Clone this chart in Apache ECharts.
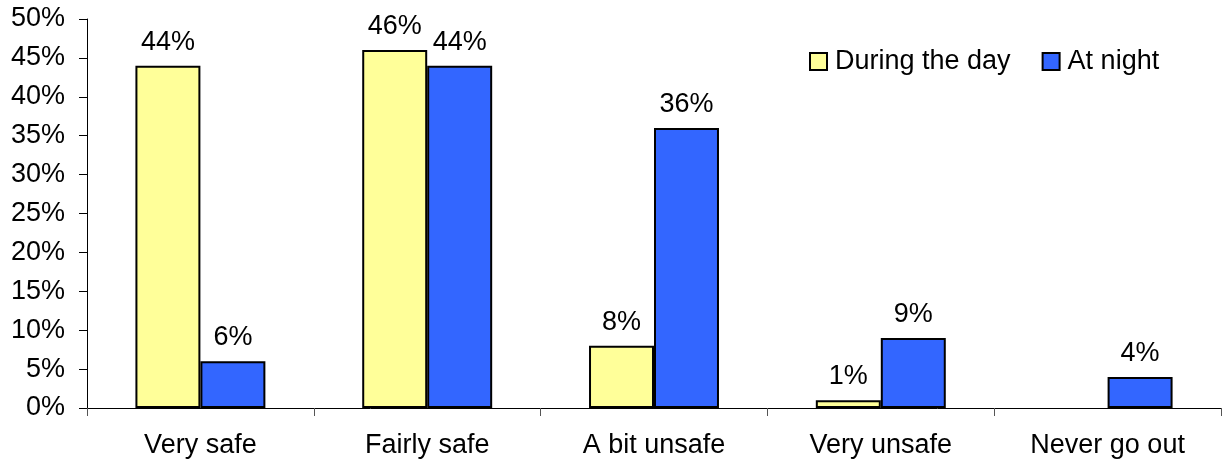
<!DOCTYPE html>
<html>
<head>
<meta charset="utf-8">
<script src="https://cdn.jsdelivr.net/npm/echarts@6/dist/echarts.min.js"></script>
<style>
  html, body { margin: 0; padding: 0; background: #ffffff; }
  #chart { width: 1222px; height: 462px; }
</style>
</head>
<body>
<div id="chart"></div>
<script>
// Feeling of safety when going out, day vs night
const categories = ['Very safe', 'Fairly safe', 'A bit unsafe', 'Very unsafe', 'Never go out'];
const duringTheDay = [44, 46, 8, 1, null];
const atNight = [6, 44, 36, 9, 4];
const seriesNames = ['During the day', 'At night'];

const FONT = 'Liberation Sans, Arial, Helvetica, sans-serif';
const FS = 27;

const chart = echarts.init(document.getElementById('chart'), null, { renderer: 'canvas' });

function barSeries(name, data, color) {
  return {
    name: name,
    type: 'bar',
    data: data,
    barGap: '0%',
    barCategoryGap: '42.7%',
    itemStyle: { color: color, borderColor: '#000000', borderWidth: 2 },
    label: {
      show: true,
      position: 'top',
      distance: 10,
      color: '#000000',
      fontFamily: FONT,
      fontSize: FS,
      formatter: p => (p.value == null ? '' : p.value + '%')
    },
    emphasis: { disabled: true }
  };
}

chart.setOption({
  animation: false,
  backgroundColor: '#ffffff',
  grid: { left: 87, right: 1, top: 19, bottom: 54, containLabel: false },
  legend: {
    data: seriesNames,
    left: 804,
    top: 43,
    itemWidth: 17,
    itemHeight: 17,
    itemGap: 31,
    icon: 'rect',
    itemStyle: { borderColor: '#000000', borderWidth: 2 },
    textStyle: { fontFamily: FONT, fontSize: FS, color: '#000000', padding: [0, 0, 0, 3] }
  },
  xAxis: {
    type: 'category',
    data: categories,
    boundaryGap: true,
    axisLine: { lineStyle: { color: '#000000', width: 1 } },
    axisTick: { show: true, alignWithLabel: false, length: 8, inside: false, lineStyle: { color: '#555555' } },
    axisLabel: { color: '#000000', fontFamily: FONT, fontSize: FS, margin: 24 },
    splitLine: { show: false }
  },
  yAxis: {
    type: 'value',
    min: 0,
    max: 50,
    interval: 5,
    axisLine: { show: true, lineStyle: { color: '#000000', width: 1 } },
    axisTick: { show: true, length: 8, lineStyle: { color: '#000000' } },
    axisLabel: { color: '#000000', fontFamily: FONT, fontSize: FS, margin: 22, formatter: '{value}%' },
    splitLine: { show: false }
  },
  series: [
    barSeries(seriesNames[0], duringTheDay, '#FFFF99'),
    barSeries(seriesNames[1], atNight, '#3366FF')
  ]
});
</script>
</body>
</html>
